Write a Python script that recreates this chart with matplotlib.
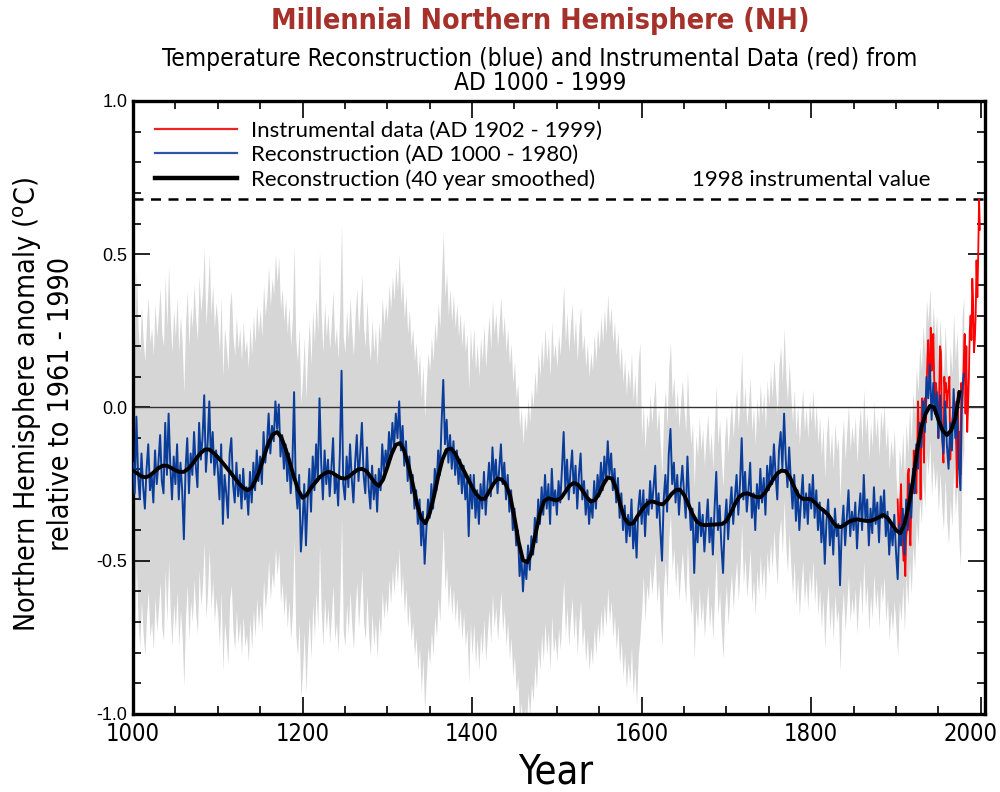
import numpy as np
import matplotlib
matplotlib.use('Agg')
import matplotlib.pyplot as plt
import matplotlib.transforms as mtransforms
from matplotlib import font_manager
from matplotlib.font_manager import FontProperties
from matplotlib.ticker import MultipleLocator
from matplotlib.lines import Line2D

# --- reconstruction, every 2nd year, AD 1000 - 1980 ---
recon_years = np.arange(1000, 1981, 2)
recon = [
    -0.18, -0.28, -0.03, -0.22, -0.30, -0.15, -0.26, -0.33, -0.20, -0.12, -0.27, -0.22, -0.31, -0.14, -0.25, -0.18, -0.09, -0.24, -0.28, -0.05, -0.22, -0.02, -0.19, -0.30, -0.16,
    -0.25, -0.12, -0.30, -0.18, -0.27, -0.43, -0.20, -0.10, -0.28, -0.15, -0.22, -0.08, -0.19, -0.26, -0.05, -0.17, -0.10, 0.04, -0.21, -0.12, 0.02, -0.18, -0.08, -0.22, -0.14,
    -0.20, -0.30, -0.12, -0.38, -0.22, -0.28, -0.36, -0.15, -0.10, -0.25, -0.31, -0.18, -0.29, -0.22, -0.33, -0.20, -0.30, -0.26, -0.35, -0.21, -0.31, -0.18, -0.27, -0.14, -0.24,
    -0.16, -0.25, -0.08, -0.18, -0.12, -0.02, -0.15, -0.06, -0.11, 0.02, -0.07, 0.01, -0.16, -0.09, -0.20, -0.12, -0.24, -0.15, -0.28, -0.19, 0.05, -0.26, -0.33, -0.22, -0.47,
    -0.38, -0.25, -0.45, -0.30, -0.20, -0.34, -0.16, -0.27, -0.12, -0.24, 0.03, -0.18, -0.30, -0.14, -0.25, -0.17, -0.29, -0.20, -0.10, -0.28, -0.22, -0.32, -0.15, 0.12, -0.25,
    -0.30, -0.16, -0.26, -0.12, -0.23, -0.31, -0.18, -0.09, -0.24, -0.15, -0.05, -0.22, -0.28, -0.13, -0.26, -0.33, -0.19, -0.30, -0.22, -0.34, -0.20, -0.27, -0.12, -0.21, -0.14,
    -0.20, -0.08, -0.16, -0.05, -0.13, -0.02, -0.10, 0.02, -0.14, -0.06, -0.19, -0.11, -0.24, -0.16, -0.28, -0.22, -0.33, -0.27, -0.38, -0.30, -0.45, -0.34, -0.51, -0.40, -0.30,
    -0.36, -0.25, -0.33, -0.20, -0.27, -0.14, -0.22, -0.05, 0.09, -0.12, -0.04, -0.18, -0.09, -0.20, -0.11, -0.22, -0.14, -0.25, -0.17, -0.28, -0.19, -0.30, -0.24, -0.42, -0.22,
    -0.33, -0.22, -0.36, -0.27, -0.38, -0.25, -0.33, -0.21, -0.35, -0.26, -0.18, -0.29, -0.13, -0.24, -0.17, -0.28, -0.20, -0.12, -0.25, -0.18, -0.30, -0.22, -0.34, -0.27, -0.40,
    -0.33, -0.45, -0.40, -0.55, -0.48, -0.60, -0.50, -0.56, -0.45, -0.53, -0.42, -0.48, -0.36, -0.44, -0.30, -0.38, -0.26, -0.35, -0.22, -0.33, -0.25, -0.38, -0.20, -0.32, -0.27,
    -0.35, -0.24, -0.31, -0.20, -0.08, -0.27, -0.17, -0.30, -0.21, -0.14, -0.28, -0.19, -0.33, -0.22, -0.15, -0.30, -0.24, -0.35, -0.27, -0.38, -0.30, -0.36, -0.24, -0.33, -0.22,
    -0.29, -0.18, -0.27, -0.16, -0.24, -0.11, -0.22, -0.15, -0.27, -0.20, -0.31, -0.23, -0.36, -0.28, -0.40, -0.32, -0.44, -0.35, -0.42, -0.30, -0.46, -0.37, -0.49, -0.33, -0.27,
    -0.38, -0.27, -0.42, -0.30, -0.35, -0.24, -0.33, -0.26, -0.19, -0.36, -0.28, -0.40, -0.50, -0.30, -0.22, -0.34, -0.15, -0.07, -0.25, -0.18, -0.31, -0.22, -0.35, -0.26, -0.19,
    -0.28, -0.36, -0.16, -0.30, -0.40, -0.33, -0.54, -0.37, -0.44, -0.31, -0.42, -0.35, -0.47, -0.38, -0.30, -0.44, -0.36, -0.48, -0.33, -0.21, -0.40, -0.32, -0.45, -0.54, -0.38,
    -0.30, -0.43, -0.33, -0.26, -0.38, -0.29, -0.22, -0.35, -0.25, -0.10, -0.30, -0.21, -0.34, -0.27, -0.18, -0.36, -0.28, -0.40, -0.25, -0.33, -0.20, -0.31, -0.23, -0.35, -0.19,
    -0.27, -0.16, -0.25, -0.12, -0.22, -0.30, -0.14, -0.08, -0.20, -0.02, -0.17, -0.26, -0.13, -0.24, -0.33, -0.22, -0.37, -0.27, -0.40, -0.30, -0.22, -0.36, -0.28, -0.38, -0.25,
    -0.33, -0.22, -0.36, -0.27, -0.40, -0.31, -0.44, -0.34, -0.51, -0.37, -0.30, -0.45, -0.36, -0.48, -0.33, -0.42, -0.38, -0.58, -0.40, -0.32, -0.45, -0.36, -0.27, -0.42, -0.34,
    -0.40, -0.31, -0.46, -0.35, -0.28, -0.40, -0.22, -0.37, -0.30, -0.45, -0.33, -0.41, -0.26, -0.38, -0.31, -0.44, -0.29, -0.36, -0.27, -0.42, -0.34, -0.48, -0.38, -0.45, -0.35,
    -0.47, -0.56, -0.38, -0.45, -0.33, -0.48, -0.30, -0.40, -0.25, -0.36, -0.20, -0.28, -0.12, -0.20, -0.05, -0.13, 0.02, -0.08, 0.10, 0.03, 0.14, -0.04, 0.08, -0.02, 0.05,
    -0.10, 0.04, -0.08, -0.15, 0.02, -0.12, -0.20, -0.05, -0.14, 0.06, -0.10, 0.00, -0.18, -0.27, 0.05, 0.11,
]

# uncertainty half-width of the grey band by period (start year, half-width)
band_start = [1000, 1600, 1900]
band_halfwidth = [0.48, 0.28, 0.25]

# --- 40 year smoothed reconstruction, every 5th year ---
smooth_years = np.arange(1000, 1976, 5)
smooth = [
    -0.206, -0.215, -0.225, -0.228, -0.222, -0.210, -0.198, -0.190, -0.190, -0.197,
    -0.205, -0.210, -0.210, -0.200, -0.185, -0.165, -0.148, -0.137, -0.137, -0.148,
    -0.162, -0.178, -0.195, -0.212, -0.230, -0.248, -0.262, -0.270, -0.262, -0.235,
    -0.200, -0.155, -0.115, -0.088, -0.080, -0.098, -0.135, -0.180, -0.228, -0.270,
    -0.295, -0.285, -0.262, -0.245, -0.228, -0.217, -0.210, -0.213, -0.222, -0.230,
    -0.232, -0.225, -0.213, -0.203, -0.200, -0.207, -0.225, -0.245, -0.256, -0.235,
    -0.195, -0.152, -0.122, -0.116, -0.142, -0.190, -0.250, -0.315, -0.362, -0.378,
    -0.345, -0.290, -0.225, -0.170, -0.138, -0.134, -0.150, -0.178, -0.205, -0.232,
    -0.260, -0.283, -0.298, -0.298, -0.275, -0.250, -0.232, -0.235, -0.252, -0.290,
    -0.360, -0.440, -0.498, -0.505, -0.475, -0.410, -0.345, -0.305, -0.296, -0.300,
    -0.303, -0.295, -0.275, -0.255, -0.246, -0.252, -0.270, -0.292, -0.307, -0.302,
    -0.280, -0.250, -0.228, -0.232, -0.265, -0.320, -0.362, -0.380, -0.378, -0.355,
    -0.335, -0.318, -0.307, -0.308, -0.314, -0.316, -0.302, -0.283, -0.270, -0.268,
    -0.285, -0.315, -0.348, -0.372, -0.382, -0.384, -0.383, -0.382, -0.381, -0.380,
    -0.370, -0.345, -0.315, -0.292, -0.282, -0.280, -0.286, -0.292, -0.293, -0.280,
    -0.258, -0.235, -0.215, -0.206, -0.208, -0.228, -0.260, -0.288, -0.298, -0.298,
    -0.300, -0.312, -0.327, -0.337, -0.350, -0.372, -0.388, -0.390, -0.382, -0.372,
    -0.367, -0.365, -0.368, -0.370, -0.370, -0.365, -0.358, -0.350, -0.360, -0.380,
    -0.400, -0.410, -0.380, -0.320, -0.240, -0.140, -0.065, -0.020, 0.005, 0.000,
    -0.040, -0.075, -0.090, -0.075, -0.035, 0.050,
]

# --- instrumental record, AD 1902 - 1999 ---
instr_years = np.arange(1902, 2000)
instr = [
    -0.30, -0.40, -0.45, -0.32, -0.25, -0.42, -0.45, -0.50, -0.48, -0.55,
    -0.42, -0.40, -0.22, -0.20, -0.38, -0.45, -0.32, -0.25, -0.28, -0.14,
    -0.25, -0.20, -0.28, -0.15, 0.02, -0.08, -0.05, -0.30, -0.02, 0.03,
    -0.05, -0.18, 0.03, -0.05, 0.05, 0.15, 0.22, 0.10, 0.08, 0.26,
    0.12, 0.15, 0.24, 0.10, 0.02, 0.08, 0.05, 0.00, -0.10, 0.05,
    0.20, 0.18, -0.05, -0.12, -0.18, 0.10, 0.05, 0.08, 0.00, 0.05,
    0.06, 0.10, -0.17, -0.10, -0.05, -0.03, -0.06, 0.02, -0.05, -0.12,
    -0.26, 0.05, -0.20, -0.08, -0.22, 0.08, 0.00, 0.05, 0.15, 0.24,
    -0.02, 0.20, -0.08, 0.00, 0.10, 0.25, 0.30, 0.22, 0.42, 0.35,
    0.18, 0.22, 0.30, 0.48, 0.36, 0.50, 0.68, 0.58,
]
value_1998 = 0.68


# pick a condensed sans face if one is installed, else fall back to Lato
def narrow_font(bold=False):
    want = 700 if bold else 400
    best = None
    for f in font_manager.fontManager.ttflist:
        w = f.weight if isinstance(f.weight, int) else (700 if 'bold' in str(f.weight) else 400)
        cond = ('Narrow' in f.name or 'Condensed' in f.name or 'condensed' in str(f.stretch)
                or 'Condensed' in f.fname or 'Narrow' in f.fname)
        if not cond or f.style != 'normal' or abs(w - want) > 100:
            continue
        if 'Extra' in f.fname or 'Ultra' in f.fname or 'Semi' in f.fname:
            continue
        rank = 0 if 'Liberation' in f.name else 1
        if best is None or rank < best[0]:
            best = (rank, f.fname)
    if best:
        return FontProperties(fname=best[1])
    return FontProperties(family=['Lato', 'DejaVu Sans'], weight='bold' if bold else 'normal')


NARROW = narrow_font()
NARROW_B = narrow_font(True)
PLAIN = ['Lato', 'DejaVu Sans']


def fp(base, size):
    p = base.copy()
    p.set_size(size)
    return p


recon = np.array(recon)
hw = np.array(band_halfwidth)[np.searchsorted(band_start, recon_years, side='right') - 1]

fig = plt.figure(figsize=(10, 7.92), dpi=100)
ax = fig.add_axes([0.133, 0.0985, 0.852, 0.774])

ax.fill_between(recon_years, recon - hw, recon + hw, color='#d6d6d6', lw=0, zorder=1)
ax.axhline(0, color='#333333', lw=1.0, zorder=2)
ax.axhline(value_1998, color='black', lw=1.8, ls=(0, (4, 3)), zorder=2)
ax.plot(instr_years, instr, color='#ff0000', lw=1.3, zorder=3)
ax.plot(recon_years, recon, color='#0a3d9a', lw=1.4, zorder=4)
ax.plot(smooth_years, smooth, color='black', lw=2.8, zorder=5)

ax.set_xlim(1000, 2005)
ax.set_ylim(-1.0, 1.0)
ax.xaxis.set_major_locator(MultipleLocator(200))
ax.xaxis.set_minor_locator(MultipleLocator(50))
ax.yaxis.set_major_locator(MultipleLocator(0.5))
ax.yaxis.set_minor_locator(MultipleLocator(0.1))
ax.tick_params(which='both', direction='in', top=True, right=True, width=1.2)
ax.tick_params(which='major', length=12)
ax.tick_params(which='minor', length=6)
ax.tick_params(axis='x', which='major', pad=6)
ax.tick_params(axis='y', which='major', pad=4)
for s in ax.spines.values():
    s.set_linewidth(2.4)

ax.set_xticks([1000, 1200, 1400, 1600, 1800, 2000])
ax.set_xticklabels(['1000', '1200', '1400', '1600', '1800', '2000'])
for lab in ax.get_xticklabels():
    lab.set_fontproperties(fp(NARROW, 17))
# nudge the last label so it stays inside the canvas
last = ax.get_xticklabels()[-1]
last.set_transform(last.get_transform() + mtransforms.ScaledTranslation(-10 / 100, 0, fig.dpi_scale_trans))
ax.set_yticks([-1.0, -0.5, 0.0, 0.5, 1.0])
ax.set_yticklabels(['-1.0', '-0.5', '0.0', '0.5', '1.0'], family=['Liberation Sans', 'DejaVu Sans'], fontsize=13)

handles = [Line2D([], [], color='#ee2222', lw=1.6),
           Line2D([], [], color='#2f55a8', lw=1.6),
           Line2D([], [], color='black', lw=3.2)]
labels = ['Instrumental data (AD 1902 - 1999)',
          'Reconstruction (AD 1000 - 1980)',
          'Reconstruction (40 year smoothed)']
ax.legend(handles, labels, loc='upper left', bbox_to_anchor=(0.026, 0.968),
          frameon=False, borderpad=0, borderaxespad=0, handlelength=3.7,
          handletextpad=0.6, labelspacing=0.2, prop={'family': PLAIN, 'size': 16})
ax.text(1941, 0.742, '1998 instrumental value', ha='right', va='center',
        family=PLAIN, fontsize=16)

fig.text(0.540, 1 - 21 / 792, 'Millennial Northern Hemisphere (NH)', ha='center', va='center',
         fontproperties=fp(NARROW_B, 20.5), color='#a5312a')
fig.text(0.540, 1 - 59 / 792, 'Temperature Reconstruction (blue) and Instrumental Data (red) from',
         ha='center', va='center', fontproperties=fp(NARROW, 17.6))
fig.text(0.540, 1 - 83 / 792, 'AD 1000 - 1999', ha='center', va='center', fontproperties=fp(NARROW, 17.6))
fig.text(0.043, 1 - 404 / 792,
         'Northern Hemisphere anomaly ($^{\\rm o}$C)\nrelative to 1961 - 1990',
         ha='center', va='center', rotation=90, fontproperties=fp(NARROW, 20.5), linespacing=1.15)
fig.text(0.556, 1 - 773 / 792, 'Year', ha='center', va='center', fontproperties=fp(NARROW, 28.5))

fig.savefig('out.png', dpi=100)
